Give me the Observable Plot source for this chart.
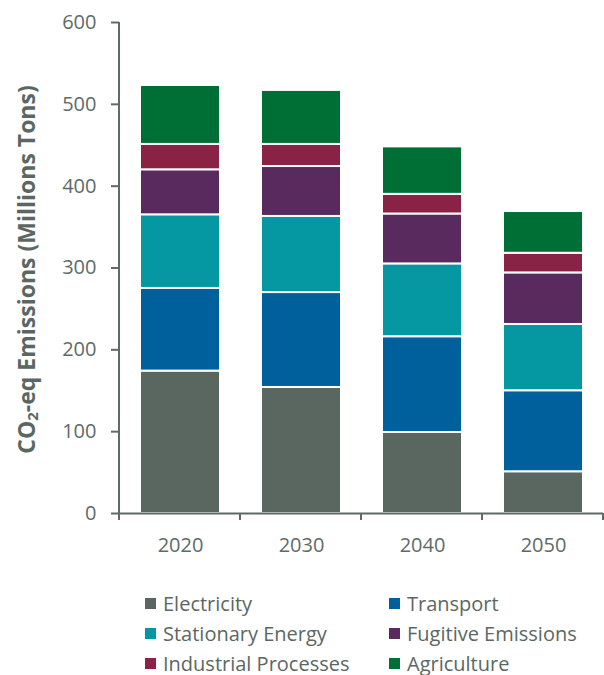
<!DOCTYPE html>
<html><head><meta charset="utf-8">
<script src="https://cdn.jsdelivr.net/npm/d3@7"></script>
<script src="https://cdn.jsdelivr.net/npm/@observablehq/plot@0.6"></script>
<style>
body{margin:0;background:#fff;font-family:"Open Sans",sans-serif;}
#legend{display:grid;grid-template-columns:244px 215px;margin-left:145px;margin-top:18px;color:#5b6763;font-size:20px;}
.item{height:30px;display:flex;align-items:center;white-space:nowrap;}
.sw{width:11px;height:11px;margin-right:7px;flex:none;}
</style></head><body><div id="chart"></div><div id="legend"></div>
<script>
const years = ["2020","2030","2040","2050"];
const sectors = ["Electricity","Transport","Stationary Energy","Fugitive Emissions","Industrial Processes","Agriculture"];
const colors = ["#5a6660","#00609c","#0598a2","#582a5e","#8a2246","#006f35"];
const electricity = [174,154,99,51];
const transport = [101,116,117,99];
const stationary = [90,93,89,81];
const fugitive = [55,61,61,63];
const industrial = [31,27,24,24];
const agriculture = [72,66,58,51];
const yTicks = [0,100,200,300,400,500,600];
const yLabel = ["CO","2","-eq Emissions (Millions Tons)"];

const series = [electricity, transport, stationary, fugitive, industrial, agriculture];
const data = [];
sectors.forEach((s,i)=> years.forEach((y,j)=> data.push({year:y, sector:s, value:series[i][j]})));

const axisColor = "#5e6b67";
const chart = Plot.plot({
  width: 604, height: 570,
  marginTop: 22, marginBottom: 57, marginLeft: 119, marginRight: 1,
  style: {fontFamily: '"Open Sans", sans-serif', fontSize: "20px", color: "#5b6763", background: "white"},
  x: {domain: years, paddingInner: 0.34, paddingOuter: 0.17, label: null},
  y: {domain: [0,600], label: null},
  color: {domain: sectors, range: colors},
  marks: [
    Plot.barY(data, {x: "year", y: "value", fill: "sector", order: sectors, stroke: "white", strokeWidth: 2}),
    Plot.axisY({ticks: yTicks, tickSize: 8, tickPadding: 15, color: axisColor, strokeWidth: 2, label: null, fontSize: 20}),
    Plot.axisX({tickSize: 0, tickPadding: 24, color: axisColor, label: null, fontSize: 20}),
    Plot.ruleY([0], {stroke: axisColor, strokeWidth: 2})
  ]
});
document.getElementById("chart").appendChild(chart);

const svg = d3.select(chart);
const ys = chart.scale("y"), xs = chart.scale("x");
const x0 = xs.range[0];
const y0 = ys.apply(0), yTop = ys.apply(600);
const g = svg.append("g").attr("stroke", axisColor).attr("stroke-width", 2);
g.append("line").attr("x1", x0).attr("x2", x0).attr("y1", y0 + 7).attr("y2", yTop);
for (let i = 1; i <= years.length; i++) {
  const xx = x0 + i * xs.step;
  g.append("line").attr("x1", xx).attr("x2", xx).attr("y1", y0).attr("y2", y0 + 7);
}
const cy = (y0 + yTop) / 2 + 2;
const t = svg.append("text")
  .attr("transform", `translate(26,${cy}) rotate(-90)`)
  .attr("text-anchor", "middle").attr("dominant-baseline", "central")
  .attr("font-weight", "bold").attr("font-size", 23).attr("fill", "#5b6763")
  .attr("font-family", '"Open Sans", sans-serif');
t.append("tspan").text(yLabel[0]);
t.append("tspan").attr("dy", 6).attr("font-size", 15).text(yLabel[1]);
t.append("tspan").attr("dy", -6).text(yLabel[2]);

const legend = d3.select("#legend");
sectors.forEach((s,i) => {
  const it = legend.append("div").attr("class", "item");
  it.append("span").attr("class", "sw").style("background", colors[i]);
  it.append("span").text(s);
});
</script></body></html>
